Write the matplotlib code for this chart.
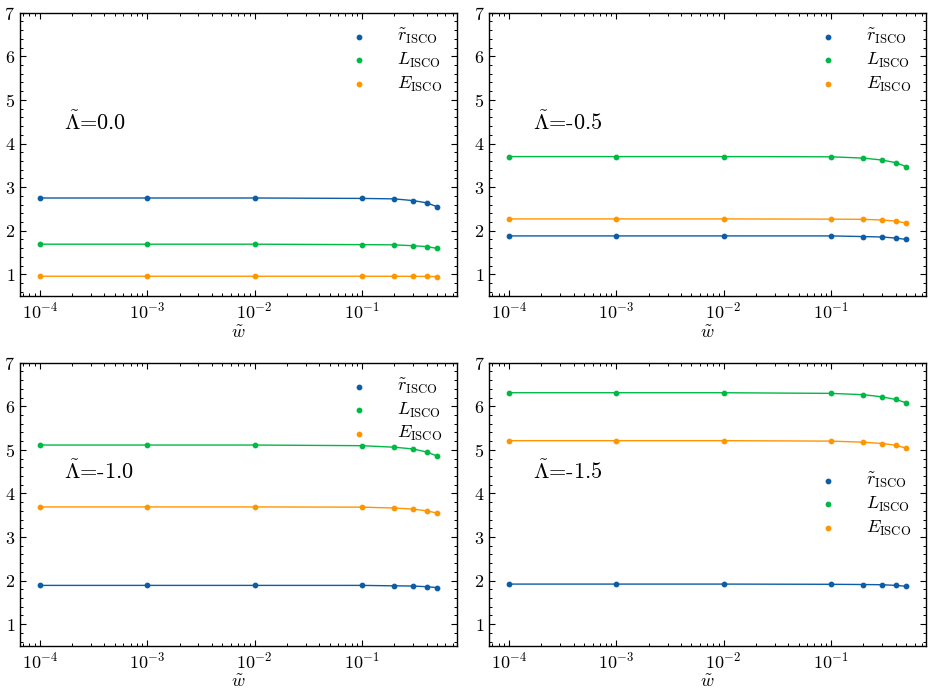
import matplotlib
matplotlib.use("Agg")
import matplotlib.pyplot as plt
from matplotlib.ticker import AutoMinorLocator, LogLocator
import numpy as np

plt.rcParams.update({
  'font.family': 'serif',
  'font.serif': ['cmr10'],
  'mathtext.fontset': 'cm',
  'axes.formatter.use_mathtext': True,
  'axes.unicode_minus': False,
  'font.size': 13,
  'axes.linewidth': 1.0,
  'xtick.direction': 'in', 'ytick.direction': 'in',
  'xtick.top': True, 'ytick.right': True,
  'xtick.major.size': 4, 'ytick.major.size': 4,
  'xtick.minor.size': 2.2, 'ytick.minor.size': 2.2,
  'xtick.major.width': 0.8, 'ytick.major.width': 0.8,
  'xtick.minor.width': 0.7, 'ytick.minor.width': 0.7,
  'xtick.minor.visible': True, 'ytick.minor.visible': True,
})

w = [1e-4, 1e-3, 1e-2, 0.1, 0.2, 0.3, 0.4, 0.5]
lambdas = ['0.0', '-0.5', '-1.0', '-1.5']

r_isco = {'0.0':  [2.75, 2.75, 2.75, 2.74, 2.73, 2.69, 2.64, 2.55],
          '-0.5': [1.88, 1.88, 1.88, 1.88, 1.865, 1.855, 1.83, 1.80],
          '-1.0': [1.89, 1.89, 1.89, 1.89, 1.88, 1.875, 1.86, 1.84],
          '-1.5': [1.92, 1.92, 1.92, 1.915, 1.91, 1.905, 1.89, 1.87]}
L_isco = {'0.0':  [1.69, 1.69, 1.69, 1.68, 1.675, 1.655, 1.635, 1.595],
          '-0.5': [3.70, 3.70, 3.70, 3.695, 3.665, 3.62, 3.56, 3.47],
          '-1.0': [5.11, 5.11, 5.11, 5.095, 5.06, 5.02, 4.95, 4.86],
          '-1.5': [6.31, 6.31, 6.31, 6.295, 6.265, 6.215, 6.155, 6.08]}
E_isco = {'0.0':  [0.955, 0.955, 0.955, 0.955, 0.954, 0.953, 0.951, 0.948],
          '-0.5': [2.27, 2.27, 2.27, 2.265, 2.26, 2.245, 2.22, 2.175],
          '-1.0': [3.69, 3.69, 3.69, 3.685, 3.665, 3.64, 3.60, 3.55],
          '-1.5': [5.21, 5.21, 5.21, 5.20, 5.175, 5.145, 5.105, 5.04]}

legend_locs = ['upper right', 'upper right', 'upper right', 'center right']

colours = ['#0C5DA5', '#00B945', '#FF9500']
labels = [r'$\tilde{r}_{\rm ISCO}$', r'$L_{\rm ISCO}$', r'$E_{\rm ISCO}$']

fig, axs = plt.subplots(2, 2, figsize=(9.34, 6.92), dpi=100)
fig.subplots_adjust(left=0.0214, right=0.9914, top=0.9816, bottom=0.0665, wspace=0.074, hspace=0.235)

for ax, lam, loc in zip(axs.flat, lambdas, legend_locs):
  for series, c, lab in zip((r_isco, L_isco, E_isco), colours, labels):
    ax.plot(w, series[lam], color=c, lw=1.0)
    ax.scatter(w, series[lam], color=c, s=10, zorder=3, label=lab)
  ax.set_xscale('log')
  ax.set_ylim(0.5, 7)
  ax.set_yticks([1, 2, 3, 4, 5, 6, 7])
  ax.yaxis.set_minor_locator(AutoMinorLocator(5))
  ax.xaxis.set_minor_locator(LogLocator(base=10, subs=np.arange(2, 10), numticks=20))
  ax.set_xlabel(r'$\tilde{w}$', labelpad=2)
  ax.text(0.1, 0.615, r'$\tilde{\Lambda}$=' + lam, transform=ax.transAxes, fontsize=16, va='center', ha='left')
  ax.legend(loc=loc, frameon=False, fontsize=13, handletextpad=1.1, labelspacing=0.25,
            borderaxespad=0.4)

fig.savefig('out.png', dpi=100)
